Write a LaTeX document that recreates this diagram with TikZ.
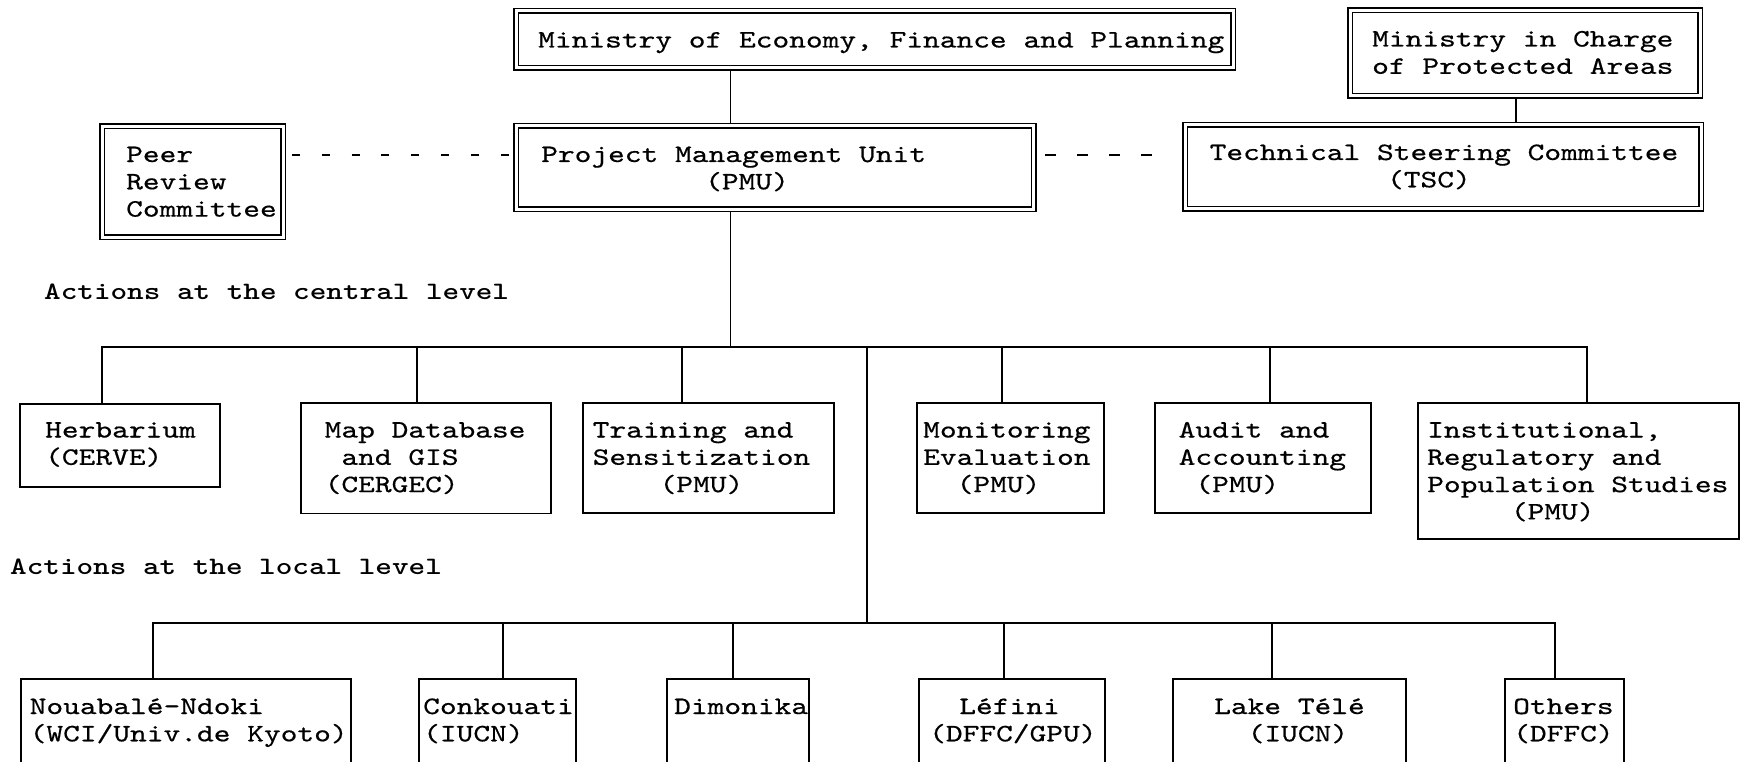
\documentclass[tikz,border=0pt]{standalone}
\usepackage{fontspec}
% Typewriter faces, widened to a Courier-like pitch
\newfontfamily\boxfont{lmmono10-regular.otf}[FakeStretch=1.275,FakeBold=0.5]
\newfontfamily\headfont{lmmonolt10-bold.otf}[FakeStretch=1.265]
% indent by a number of typewriter columns
\newcommand\indentby[1]{\hspace*{\dimexpr#1\fontcharwd\font`M\relax}}

\tikzset{
  conn/.style={line width=1.6pt},
  dashA/.style={line width=1.6pt, dash pattern=on 8pt off 21.8pt},
  dashB/.style={line width=1.6pt, dash pattern=on 11pt off 21pt},
  dbox/.style={draw, line width=1.5pt, double, double distance=3pt,
               outer sep=3pt, inner sep=0pt},
  sbox/.style={draw, line width=1.6pt, inner sep=0pt},
  % anchored at the baseline of the last line
  txt/.style={anchor=base west, inner sep=0pt, align=left,
              font=\boxfont\fontsize{25pt}{27.3pt}\selectfont},
  head/.style={anchor=base west, inner sep=0pt,
               font=\headfont\fontsize{25pt}{27.3pt}\selectfont},
}

\begin{document}
\begin{tikzpicture}[x=1pt, y=-1pt]
  \fill[white] (0,0) rectangle (1751,762);
  \useasboundingbox (0,0) rectangle (1751,762);
  \clip (0,0) rectangle (1751,762);

  % ---- top level (double-ruled boxes)
  \node[dbox, minimum width=717pt, minimum height=57pt] (min) at (874.5,39.5) {};
  \node[txt] (minT) at (538,47.5) {Ministry of Economy, Finance and Planning};

  \node[dbox, minimum width=350pt, minimum height=85.5pt] (mic) at (1525,53.25) {};
  \node[txt] (micT) at (1372,73.8) {Ministry in Charge\\of Protected Areas};

  \node[dbox, minimum width=517.5pt, minimum height=83.5pt] (pmu) at (774.75,167.75) {};
  \node[txt] (pmuT) at (541,189.3) {Project Management Unit\\\indentby{9.8}(PMU)};

  \node[dbox, minimum width=516pt, minimum height=84pt] (tsc) at (1443,167) {};
  \node[txt] (tscT) at (1209.5,187.3) {Technical Steering Committee\\\indentby{10.6}(TSC)};

  \node[dbox, minimum width=181pt, minimum height=111pt] (peer) at (192.5,182) {};
  \node[txt] (peerT) at (126,216.6) {Peer\\Review\\Committee};

  % ---- section headings
  \node[head] (hc) at (44,299) {Actions at the central level};
  \node[head] (hl) at (10,574) {Actions at the local level};

  % ---- central level
  \node[sbox, minimum width=200pt, minimum height=83pt] (herb) at (120,445.5) {};
  \node[txt] (herbT) at (45,464.8) {Herbarium\\(CERVE)};

  \node[sbox, minimum width=250pt, minimum height=110.5pt] (map) at (426,458.25) {};
  \node[txt] (mapT) at (324.5,492.1) {Map Database\\\indentby{1}and GIS\\(CERGEC)};

  \node[sbox, minimum width=251pt, minimum height=110pt] (train) at (708.5,458) {};
  \node[txt] (trainT) at (592.5,492.1) {Training and\\Sensitization\\\indentby{4}(PMU)};

  \node[sbox, minimum width=187pt, minimum height=110pt] (monit) at (1010.5,458) {};
  \node[txt] (monitT) at (923,492.1) {Monitoring\\Evaluation\\\indentby{2}(PMU)};

  \node[sbox, minimum width=216pt, minimum height=110pt] (audit) at (1263,458) {};
  \node[txt] (auditT) at (1178.5,492.1) {Audit and\\Accounting\\\indentby{1}(PMU)};

  \node[sbox, minimum width=321pt, minimum height=136pt] (inst) at (1578.5,471) {};
  \node[txt] (instT) at (1427,519.4) {Institutional,\\Regulatory and\\Population Studies\\\indentby{5}(PMU)};

  % ---- local level (boxes run past the lower edge)
  \node[sbox, minimum width=330pt, minimum height=141pt] (noua) at (186,749.5) {};
  \node[txt] (nouaT) at (29.5,741.3) {Nouabalé-Ndoki\\(WCI/Univ.de Kyoto)};

  \node[sbox, minimum width=157pt, minimum height=141pt] (conk) at (497.5,749.5) {};
  \node[txt] (conkT) at (423,741.3) {Conkouati\\(IUCN)};

  \node[sbox, minimum width=142pt, minimum height=141pt] (dimo) at (738,749.5) {};
  \node[txt] (dimoT) at (674,714) {Dimonika};

  \node[sbox, minimum width=186pt, minimum height=141pt] (lefi) at (1012,749.5) {};
  \node[txt] (lefiT) at (929,741.3) {\indentby{1.8}Léfini\\(DFFC/GPU)};

  \node[sbox, minimum width=233pt, minimum height=141pt] (lake) at (1289.5,749.5) {};
  \node[txt] (lakeT) at (1214,741.3) {Lake Télé\\\indentby{2}(IUCN)};

  \node[sbox, minimum width=119pt, minimum height=141pt] (oth) at (1564.5,749.5) {};
  \node[txt] (othT) at (1513,741.3) {Others\\(DFFC)};

  % ---- junction points
  \coordinate (top)  at (730.5,0);
  \coordinate (tscx) at (1516,0);
  \coordinate (dy)   at (0,155);
  \coordinate (cbp) at (730.5,347);
  \coordinate (cb1) at (102,347);
  \coordinate (cb2) at (417,347);
  \coordinate (cb3) at (682,347);
  \coordinate (cbt) at (867,347);
  \coordinate (cb5) at (1002,347);
  \coordinate (cb6) at (1270,347);
  \coordinate (cb7) at (1587,347);
  \coordinate (lb1) at (153,623);
  \coordinate (lb2) at (503,623);
  \coordinate (lb3) at (733,623);
  \coordinate (lbt) at (867,623);
  \coordinate (lb4) at (1004,623);
  \coordinate (lb5) at (1272,623);
  \coordinate (lb6) at (1555,623);

  % ---- connectors
  \draw[conn] (min.south -| top) -- (pmu.north -| top);
  \draw[conn] (mic.south -| tscx) -- (tsc.north -| tscx);
  \draw[dashA, shorten <=6pt, shorten >=4.4pt] (peer.east |- dy) -- (pmu.west |- dy);
  \draw[dashB, shorten <=8.5pt, shorten >=30pt] (pmu.east |- dy) -- (tsc.west |- dy);

  \draw[conn] (pmu.south -| cbp) -- (cbp);
  \draw[conn] (herb.north -| cb1) -- (cb1) -- (cb7) -- (inst.north -| cb7);
  \draw[conn] (cb2) -- (map.north -| cb2);
  \draw[conn] (cb3) -- (train.north -| cb3);
  \draw[conn] (cb5) -- (monit.north -| cb5);
  \draw[conn] (cb6) -- (audit.north -| cb6);
  \draw[conn] (cbt) -- (lbt);

  \draw[conn] (noua.north -| lb1) -- (lb1) -- (lb6) -- (oth.north -| lb6);
  \draw[conn] (lb2) -- (conk.north -| lb2);
  \draw[conn] (lb3) -- (dimo.north -| lb3);
  \draw[conn] (lb4) -- (lefi.north -| lb4);
  \draw[conn] (lb5) -- (lake.north -| lb5);
\end{tikzpicture}
\end{document}
